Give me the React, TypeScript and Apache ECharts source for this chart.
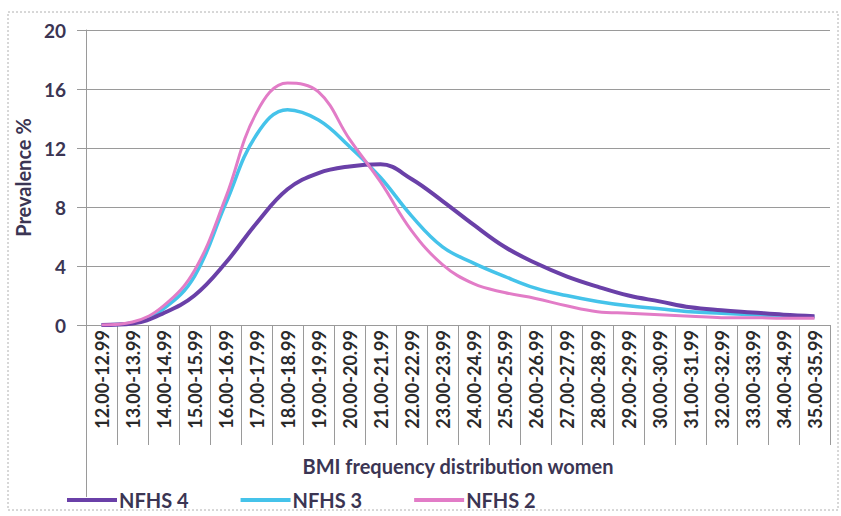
import React, { useEffect, useRef } from "react";
import * as echarts from "echarts";

const categories = [
  "12.00-12.99", "13.00-13.99", "14.00-14.99", "15.00-15.99", "16.00-16.99", "17.00-17.99",
  "18.00-18.99", "19.00-19.99", "20.00-20.99", "21.00-21.99", "22.00-22.99", "23.00-23.99",
  "24.00-24.99", "25.00-25.99", "26.00-26.99", "27.00-27.99", "28.00-28.99", "29.00-29.99",
  "30.00-30.99", "31.00-31.99", "32.00-32.99", "33.00-33.99", "34.00-34.99", "35.00-35.99",
];

const nfhs4 = [0, 0.1, 0.8, 2.0, 4.2, 6.9, 9.2, 10.3, 10.75, 10.9, 9.9, 8.4, 6.8, 5.3, 4.2, 3.3, 2.6, 2.0, 1.6, 1.2, 1.0, 0.85, 0.7, 0.6];
const nfhs3 = [0, 0.15, 1.1, 3.3, 8.2, 12.9, 14.6, 13.9, 12.1, 10.0, 7.4, 5.3, 4.2, 3.3, 2.5, 2.0, 1.6, 1.3, 1.1, 0.9, 0.8, 0.7, 0.6, 0.55];
const nfhs2 = [0, 0.2, 1.3, 3.7, 8.6, 14.4, 16.4, 15.8, 12.6, 9.7, 6.4, 4.1, 2.8, 2.2, 1.8, 1.3, 0.9, 0.8, 0.7, 0.6, 0.5, 0.5, 0.45, 0.45];

const yTicks = { min: 0, max: 20, interval: 4 };

const textColor = "#3b3553";
const gridColor = "#9a9a9a";
const font = "Lato";

export default function App() {
  const ref = useRef<HTMLDivElement>(null);
  useEffect(() => {
    const chart = echarts.init(ref.current!, undefined, { renderer: "svg" });
    chart.setOption({
      animation: false,
      backgroundColor: "#ffffff",
      textStyle: { fontFamily: font },
      grid: { left: 86, top: 30, right: 11, bottom: 191, containLabel: false },
      xAxis: {
        type: "category",
        data: categories,
        boundaryGap: true,
        name: "BMI frequency distribution women",
        nameLocation: "middle",
        nameGap: 131,
        nameTextStyle: { fontFamily: font, fontWeight: "bold", fontSize: 20, color: textColor },
        axisLine: { show: true, lineStyle: { color: gridColor, width: 1 } },
        axisTick: { show: true, interval: 0, length: 120, lineStyle: { color: gridColor } },
        axisLabel: {
          interval: 0,
          rotate: 90,
          fontFamily: font,
          fontWeight: "bold",
          fontSize: 18,
          color: "#2a2a2a",
          margin: 5,
        },
        splitLine: { show: false },
      },
      yAxis: {
        type: "value",
        min: yTicks.min,
        max: yTicks.max,
        interval: yTicks.interval,
        name: "Prevalence %",
        nameLocation: "middle",
        nameRotate: 90,
        nameGap: 45,
        nameTextStyle: { fontFamily: font, fontWeight: "bold", fontSize: 20, color: textColor },
        axisLine: { show: true, lineStyle: { color: gridColor } },
        axisTick: { show: true, length: 9, lineStyle: { color: gridColor } },
        axisLabel: { fontFamily: font, fontWeight: "bold", fontSize: 19, color: textColor, margin: 20 },
        splitLine: { show: true, lineStyle: { color: gridColor, width: 1 } },
      },
      legend: {
        left: 62,
        top: 485,
        itemWidth: 50,
        itemHeight: 4,
        itemGap: 52,
        textStyle: { fontFamily: font, fontWeight: "bold", fontSize: 20, color: textColor, padding: [0, 0, 0, -3] },
        data: [
          { name: "NFHS 4", icon: "rect", itemStyle: { color: "#6a40a8" } },
          { name: "NFHS 3", icon: "rect", itemStyle: { color: "#45c3ea" } },
          { name: "NFHS 2", icon: "rect", itemStyle: { color: "#e27cc7" } },
        ],
      },
      graphic: [
        {
          type: "rect",
          shape: { x: 8, y: 12, width: 830, height: 498 },
          style: { fill: "none", stroke: "#b0b0b0", lineWidth: 1, lineDash: [2, 2] },
          silent: true,
        },
        {
          type: "line",
          shape: { x1: 86.5, y1: 325, x2: 86.5, y2: 497 },
          style: { stroke: gridColor, lineWidth: 1 },
          silent: true,
        },
      ],
      series: [
        {
          name: "NFHS 4",
          type: "line",
          data: nfhs4,
          smooth: 0.4,
          showSymbol: false,
          lineStyle: { color: "#6a40a8", width: 4 },
          itemStyle: { color: "#6a40a8" },
          z: 3,
        },
        {
          name: "NFHS 3",
          type: "line",
          data: nfhs3,
          smooth: 0.4,
          showSymbol: false,
          lineStyle: { color: "#45c3ea", width: 3.5 },
          itemStyle: { color: "#45c3ea" },
          z: 2,
        },
        {
          name: "NFHS 2",
          type: "line",
          data: nfhs2,
          smooth: 0.4,
          showSymbol: false,
          lineStyle: { color: "#e27cc7", width: 3 },
          itemStyle: { color: "#e27cc7" },
          z: 4,
        },
      ],
    });
    return () => chart.dispose();
  }, []);
  return (
    <div
      ref={ref}
      style={{ position: "fixed", left: 0, top: 0, width: 841, height: 516 }}
    />
  );
}
